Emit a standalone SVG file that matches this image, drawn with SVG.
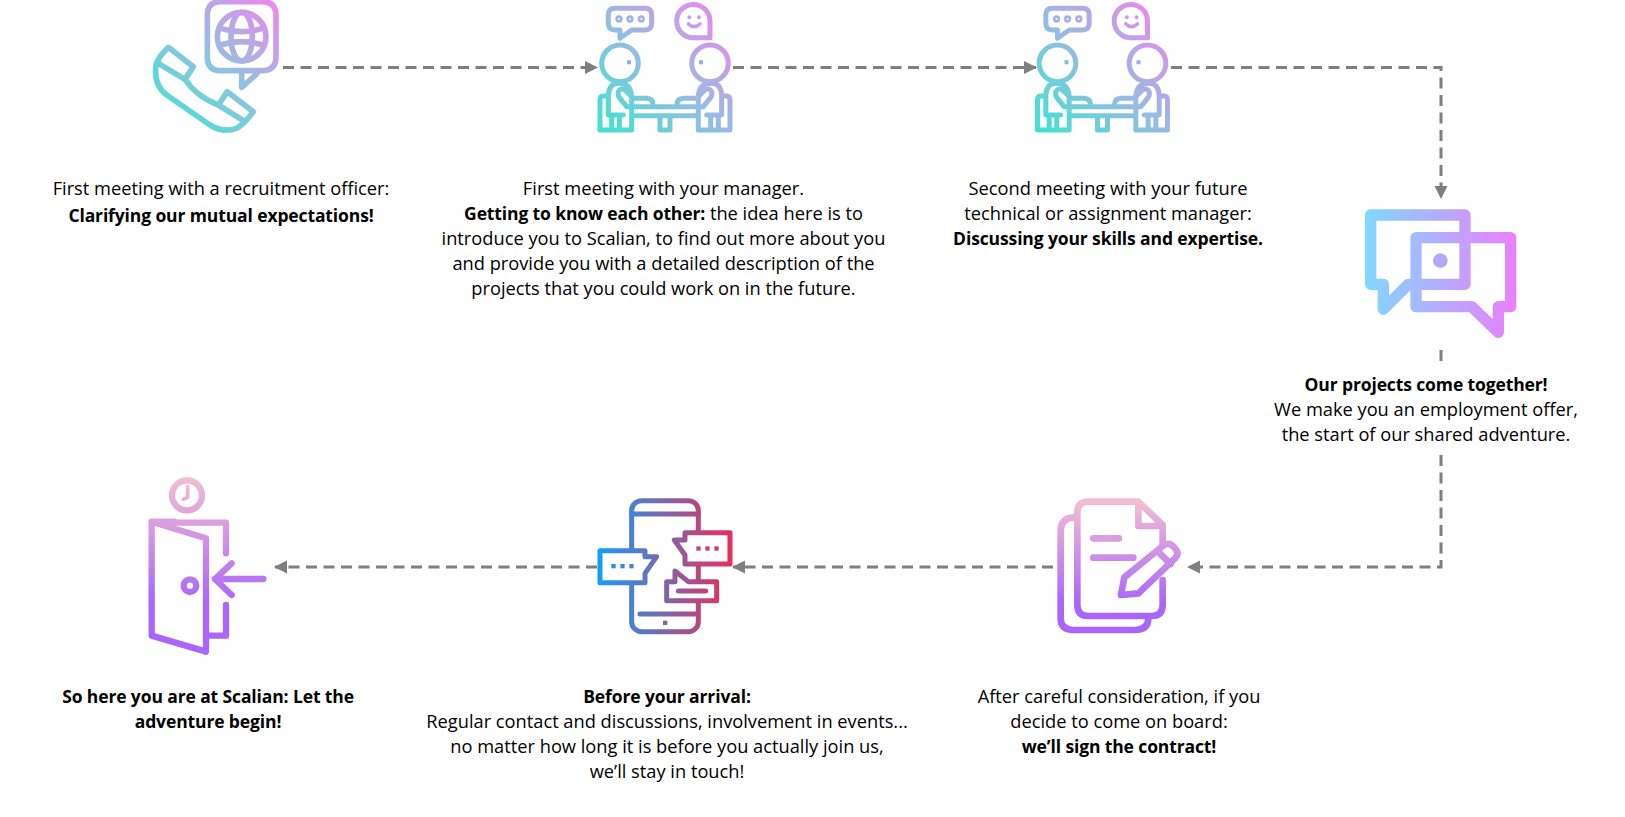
<svg xmlns="http://www.w3.org/2000/svg" width="1625" height="817" viewBox="0 0 1625 817">
<style>
text{font-family:"Open Sans","Noto Sans","Liberation Sans",sans-serif;font-size:18.25px;fill:#000;text-anchor:middle}
.b{font-weight:700;font-size:17.5px;letter-spacing:-.12px}
.i{fill:none;stroke-linecap:round;stroke-linejoin:round}
.c{fill:none;stroke:#7f7f7f;stroke-width:3;stroke-dasharray:11 6.5}
</style>
<defs>
<marker id="ah" markerUnits="userSpaceOnUse" markerWidth="14" markerHeight="14" refX="12" refY="6.5" orient="auto"><path d="M0,0L13,6.500L0,13Z" fill="#7f7f7f"/></marker>
<linearGradient id="gCall" gradientUnits="userSpaceOnUse" x1="90" y1="400" x2="440" y2="10"><stop offset="0" stop-color="#3fe3cf"/><stop offset=".5" stop-color="#8ec4e0"/><stop offset="1" stop-color="#ee86ee"/></linearGradient>
<linearGradient id="gMeet" gradientUnits="userSpaceOnUse" x1="30" y1="395" x2="390" y2="10"><stop offset="0" stop-color="#3fe3cf"/><stop offset=".5" stop-color="#96bce2"/><stop offset="1" stop-color="#ee86ee"/></linearGradient>
<linearGradient id="gChat" gradientUnits="userSpaceOnUse" x1="45" y1="0" x2="498" y2="0"><stop offset="0" stop-color="#80d8ff"/><stop offset="1" stop-color="#ea80fc"/></linearGradient>
<linearGradient id="gDoor" gradientUnits="userSpaceOnUse" x1="0" y1="30" x2="0" y2="400"><stop offset="0" stop-color="#f2bcd2"/><stop offset="1" stop-color="#aa66fa"/></linearGradient>
<linearGradient id="gDoc" gradientUnits="userSpaceOnUse" x1="0" y1="40" x2="0" y2="340"><stop offset="0" stop-color="#f2bcd2"/><stop offset="1" stop-color="#aa66fa"/></linearGradient>
<linearGradient id="gPhone" gradientUnits="userSpaceOnUse" x1="45" y1="0" x2="440" y2="0"><stop offset="0" stop-color="#159cfa"/><stop offset="1" stop-color="#ea2d58"/></linearGradient>
<g id="meet" class="i" stroke="url(#gMeet)" stroke-width="15">
<path d="M75,90Q55,90 55,70V45Q55,25 75,25H165Q185,25 185,45V70Q185,90 165,90H125L90,115V90Z"/>
<circle cx="87" cy="57" r="7" stroke-width="8"/><circle cx="120" cy="57" r="7" stroke-width="8"/><circle cx="154" cy="57" r="7" stroke-width="8"/>
<path d="M360,113H315A50,50 0 1 1 360,64Z"/>
<circle cx="298" cy="52" r="3" fill="#e093ea" stroke-width="6"/><circle cx="327" cy="52" r="3" fill="#e093ea" stroke-width="6"/>
<path d="M295,72Q312,88 330,72" stroke-width="11"/>
<circle cx="90" cy="190" r="55"/><circle cx="360" cy="190" r="55"/>
<path d="M111,181h12v12h-12ZM327,181h12v12h-12Z" fill="#8ab4ea" stroke="none"/>
<path d="M52,288H40Q30,288 30,300V390H125V295Q125,250 85,250Q58,250 55,285V345H100M65,347V388M88,347V388"/>
<path d="M190,318Q190,295 168,295H130L105,270Q92,262 85,275Q82,285 90,295L110,320H340L360,295Q368,285 365,275Q358,262 345,270L320,295H282Q260,295 260,318"/>
<path d="M130,347H320M210,347V390H240V347"/>
<path d="M398,288H410Q420,288 420,300V390H325V295Q325,250 365,250Q392,250 395,285V345H350M385,347V388M362,347V388"/>
</g>
</defs>
<rect width="1625" height="817" fill="#fff"/>
<g id="connectors">
<path class="c" d="M283,67.500H597" marker-end="url(#ah)"/>
<path class="c" d="M733,67.500H1036" marker-end="url(#ah)"/>
<path class="c" d="M1171,67.500H1441V198" marker-end="url(#ah)"/>
<path class="c" d="M1441,350V362"/>
<path class="c" d="M1441,455V567H1188" marker-end="url(#ah)"/>
<path class="c" d="M1053,567H733" marker-end="url(#ah)"/>
<path class="c" d="M597,567H275" marker-end="url(#ah)"/>
</g>
<g id="node-call">
<g transform="translate(130,0) scale(.3333)" class="i" stroke="url(#gCall)" stroke-width="17">
<path d="M115,142L190,200L165,238Q200,290 265,315L292,275L370,335Q345,370 320,385Q280,400 240,375L110,285Q70,255 78,195Q85,170 115,142ZM85,190L165,238M265,315L345,365"/>
<path d="M268,212H395Q438,212 438,170V45Q438,5 395,5H272Q232,5 232,45V170Q232,212 272,212H335V262L380,222"/>
<circle cx="335" cy="110" r="73"/><ellipse cx="335" cy="110" rx="32" ry="73"/>
<path d="M272,85Q335,105 398,85M272,135Q335,115 398,135"/>
</g>
<text x="221" y="194.500">First meeting with a recruitment officer:</text>
<text x="221" y="221.500" class="b">Clarifying our mutual expectations!</text>
</g>
<g id="node-manager">
<use href="#meet" transform="translate(590,0) scale(.3333)"/>
<text x="663.500" y="194.500">First meeting with your manager.</text>
<text x="663.500" y="219.500"><tspan class="b">Getting to know each other:</tspan> the idea here is to</text>
<text x="663.500" y="244.500">introduce you to Scalian, to find out more about you</text>
<text x="663.500" y="270">and provide you with a detailed description of the</text>
<text x="663.500" y="295">projects that you could work on in the future.</text>
</g>
<g id="node-second">
<use href="#meet" transform="translate(1027.500,0) scale(.3333)"/>
<text x="1108" y="194.500">Second meeting with your future</text>
<text x="1108" y="219.500">technical or assignment manager:</text>
<text x="1108" y="244.500" class="b">Discussing your skills and expertise.</text>
</g>
<g id="node-offer">
<g transform="translate(1350,195) scale(.3333)" class="i" stroke="url(#gChat)" stroke-width="34">
<path d="M100,268H62V60H345V268H198M100,268V343L175,268"/>
<path d="M198,128H482V335H445V412L365,335H198Z"/>
<circle cx="271" cy="197" r="22" fill="#b3a8fa" stroke="none"/>
</g>
<text x="1426" y="390.500" class="b">Our projects come together!</text>
<text x="1426" y="415.500">We make you an employment offer,</text>
<text x="1426" y="441">the start of our shared adventure.</text>
</g>
<g id="node-contract">
<g transform="translate(1040,490) scale(.3333)" class="i" stroke="url(#gDoc)" stroke-width="20">
<path d="M290,35H145Q112,35 112,68V345Q112,378 145,378H335Q368,378 368,345V270M368,170V105L295,35V108H368"/>
<path d="M105,82Q62,82 62,125V385Q62,420 100,420H285Q325,420 325,385"/>
<path d="M160,145H237M160,203H280"/>
<path d="M243,315L253,262L372,165Q390,155 405,175Q420,190 405,205L295,310ZM352,183L392,222" fill="#fff"/>
</g>
<text x="1119" y="702.500">After careful consideration, if you</text>
<text x="1119" y="727.500">decide to come on board:</text>
<text x="1119" y="753" class="b">we’ll sign the contract!</text>
</g>
<g id="node-arrival">
<g transform="translate(585,490) scale(.3333)" class="i" stroke="url(#gPhone)" stroke-width="15">
<rect x="140" y="32" width="200" height="393" rx="30"/>
<path d="M140,72H340M165,372H330"/>
<path d="M45,182H180V200H215L180,250V278H45Z" fill="#fff"/>
<path d="M300,128H435V222H300V195L268,150H300Z" fill="#fff"/>
<path d="M245,275H270V243L310,275H395V332H245Z" fill="#fff"/>
<path d="M280,303H362"/>
<g fill="url(#gPhone)" stroke="none"><rect x="79" y="222" width="13" height="13"/><rect x="106" y="222" width="13" height="13"/><rect x="133" y="222" width="13" height="13"/><rect x="334" y="169" width="13" height="13"/><rect x="361" y="169" width="13" height="13"/><rect x="388" y="169" width="13" height="13"/><rect x="234" y="392" width="13" height="13"/></g>
</g>
<text x="667" y="702.500" class="b">Before your arrival:</text>
<text x="667" y="727.500">Regular contact and discussions, involvement in events...</text>
<text x="667" y="753">no matter how long it is before you actually join us,</text>
<text x="667" y="778">we’ll stay in touch!</text>
</g>
<g id="node-welcome">
<g transform="translate(130,470) scale(.3333)" class="i" stroke="url(#gDoor)" stroke-width="19">
<circle cx="171" cy="76" r="45"/><path d="M173,50V82L160,88" stroke-width="11"/>
<path d="M133,158H288V250M288,405V497H235M65,155H133"/>
<path d="M65,155V497L228,545V205Z"/>
<path d="M400,327H255M305,280L255,327L305,375"/>
<circle cx="180" cy="347" r="19"/>
</g>
<text x="208" y="702.500" class="b">So here you are at Scalian: Let the</text>
<text x="208" y="727.500" class="b">adventure begin!</text>
</g>
</svg>
